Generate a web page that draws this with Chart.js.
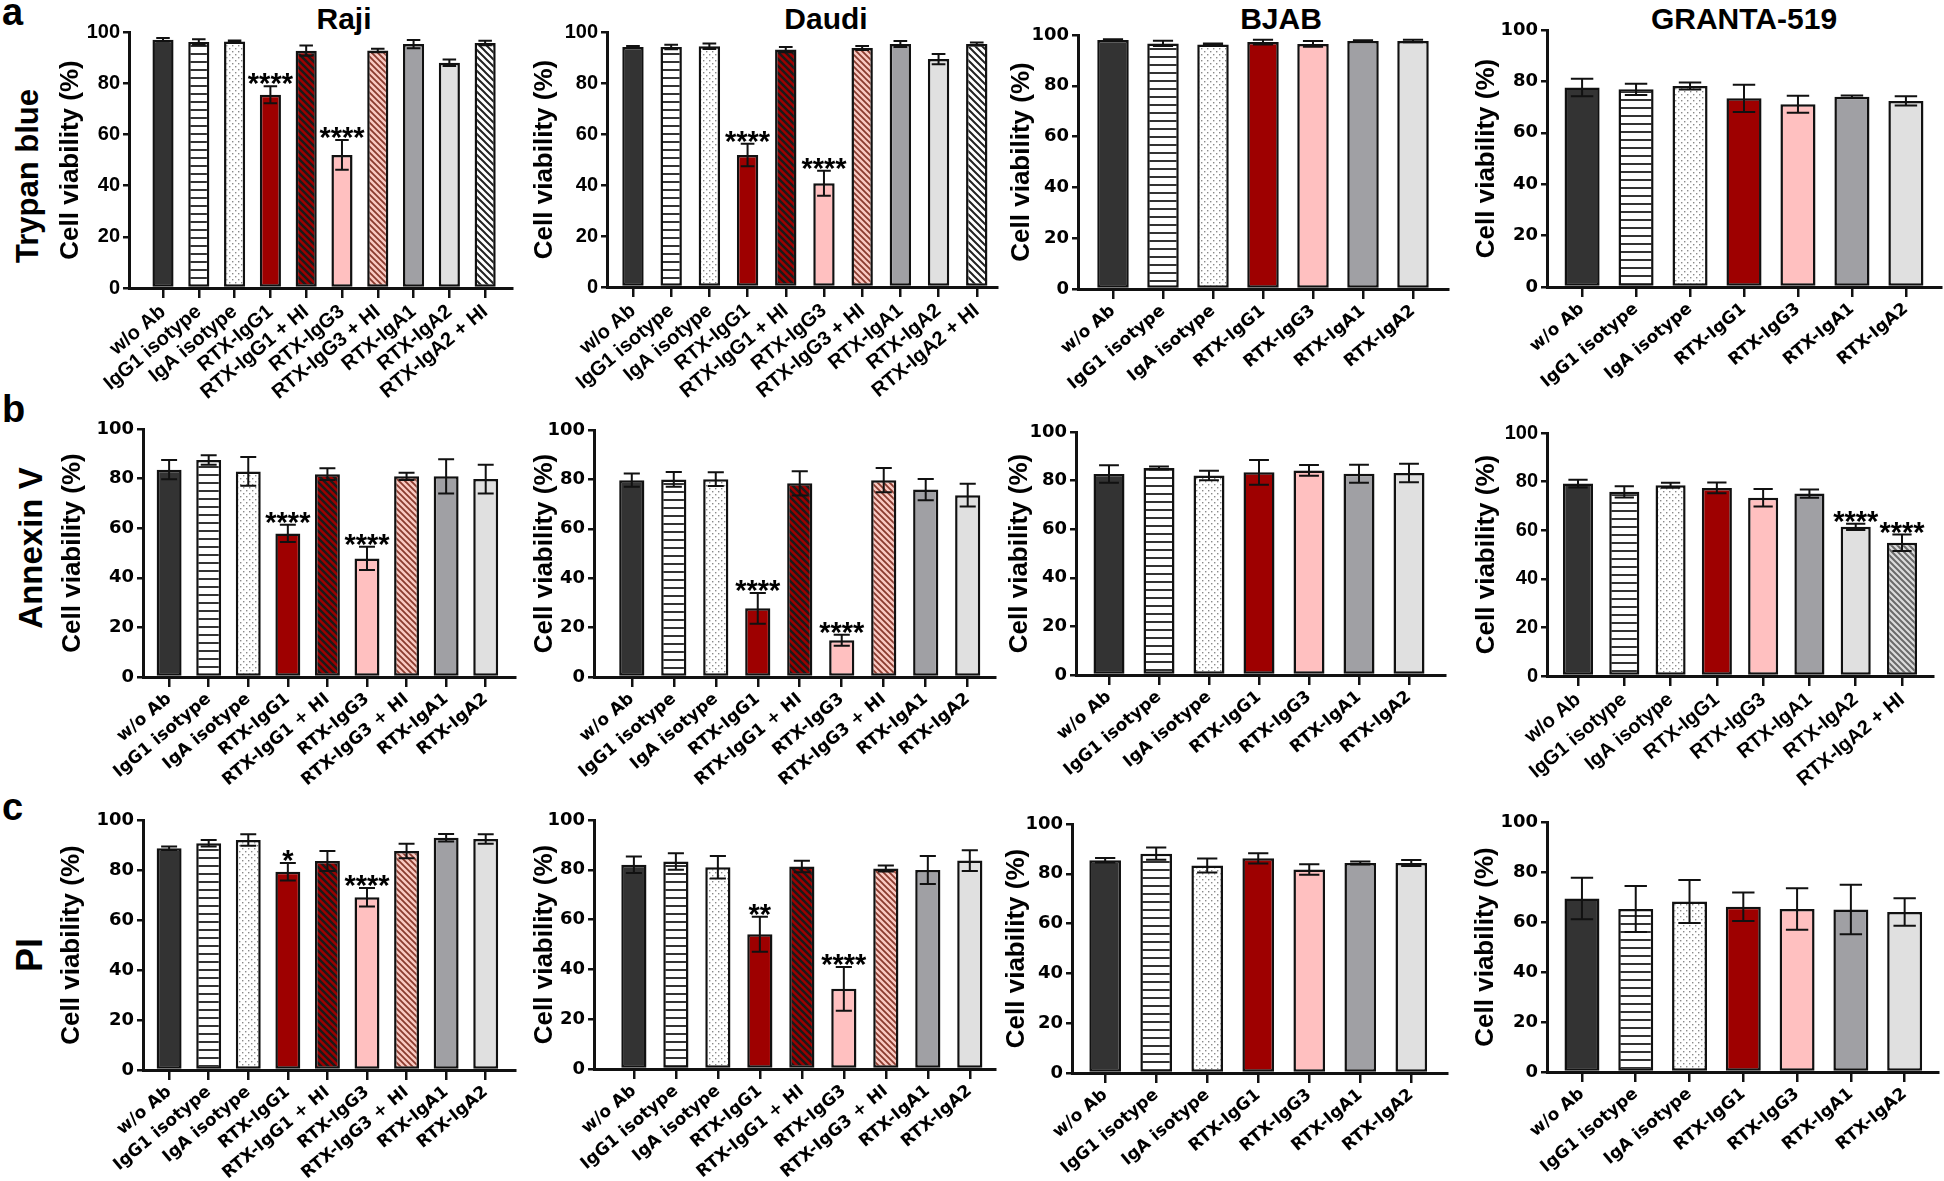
<!DOCTYPE html>
<html>
<head>
<meta charset="utf-8">
<script src="https://cdn.jsdelivr.net/npm/chart.js@4.4.1/dist/chart.umd.min.js"></script>
<style>
  html, body { margin: 0; padding: 0; background: #fff; }
  body { width: 1944px; height: 1181px; position: relative; overflow: hidden;
         font-family: "Liberation Sans", Arial, sans-serif; font-weight: bold; color: #000; }
  canvas { position: absolute; }
  .txt { position: absolute; white-space: nowrap; line-height: 1; }
  .letter { font-size: 38px; }
  .col { font-size: 30px; transform: translateX(-50%); }
  .row { transform: translate(-50%, -50%) rotate(-90deg); }
</style>
</head>
<body>
<div class="txt letter" style="left:2px;top:-7px">a</div>
<div class="txt letter" style="left:2px;top:390px">b</div>
<div class="txt letter" style="left:2px;top:788px">c</div>

<div class="txt col" style="left:344px;top:4px">Raji</div>
<div class="txt col" style="left:826px;top:4px">Daudi</div>
<div class="txt col" style="left:1281px;top:4px">BJAB</div>
<div class="txt col" style="left:1744px;top:4px">GRANTA-519</div>

<div class="txt row" style="left:27px;top:176px;font-size:31px">Trypan blue</div>
<div class="txt row" style="left:30px;top:548px;font-size:33px">Annexin V</div>
<div class="txt row" style="left:30px;top:955px;font-size:36px">PI</div>

<script>
// category labels
const labelsHI10 = ['w/o Ab', 'IgG1 isotype', 'IgA isotype', 'RTX-IgG1', 'RTX-IgG1 + HI', 'RTX-IgG3', 'RTX-IgG3 + HI', 'RTX-IgA1', 'RTX-IgA2', 'RTX-IgA2 + HI'];
const labelsHI9 = ['w/o Ab', 'IgG1 isotype', 'IgA isotype', 'RTX-IgG1', 'RTX-IgG1 + HI', 'RTX-IgG3', 'RTX-IgG3 + HI', 'RTX-IgA1', 'RTX-IgA2'];
const labels7 = ['w/o Ab', 'IgG1 isotype', 'IgA isotype', 'RTX-IgG1', 'RTX-IgG3', 'RTX-IgA1', 'RTX-IgA2'];
const labels8 = ['w/o Ab', 'IgG1 isotype', 'IgA isotype', 'RTX-IgG1', 'RTX-IgG3', 'RTX-IgA1', 'RTX-IgA2', 'RTX-IgA2 + HI'];

// a: Trypan blue
const rajiTrypanMean = [97.0, 96.1, 96.3, 75.5, 92.7, 52.0, 92.8, 95.3, 88.0, 95.7];
const rajiTrypanSD = [0.7, 1.1, 0.4, 3.3, 2.0, 5.8, 0.7, 1.6, 1.3, 0.9];
const rajiTrypanStars = ['', '', '', '****', '', '****', '', '', '', ''];

const daudiTrypanMean = [94.1, 94.1, 94.4, 51.8, 93.1, 40.7, 93.7, 95.3, 89.4, 95.3];
const daudiTrypanSD = [0.4, 0.9, 1.1, 4.4, 1.0, 4.9, 0.8, 1.2, 2.0, 0.6];
const daudiTrypanStars = ['', '', '', '****', '', '****', '', '', '', ''];

const bjabTrypanMean = [98.0, 96.7, 96.3, 97.2, 96.5, 97.6, 97.6];
const bjabTrypanSD = [0.3, 1.0, 0.4, 0.9, 1.1, 0.3, 0.5];

const grantaTrypanMean = [77.6, 76.9, 78.2, 73.4, 71.1, 74.0, 72.4];
const grantaTrypanSD = [3.4, 2.2, 1.4, 5.3, 3.3, 0.5, 1.8];

// b: Annexin V
const rajiAnnexinMean = [83.6, 87.5, 82.9, 57.9, 81.8, 47.8, 80.9, 80.9, 79.8];
const rajiAnnexinSD = [3.9, 1.9, 5.8, 3.5, 2.4, 4.7, 1.5, 6.9, 5.8];
const rajiAnnexinStars = ['', '', '', '****', '', '****', '', '', ''];

const daudiAnnexinMean = [79.7, 80.0, 80.1, 27.8, 78.4, 14.9, 79.7, 75.9, 73.6];
const daudiAnnexinSD = [2.7, 3.0, 2.8, 6.2, 4.9, 2.2, 4.9, 4.3, 4.6];
const daudiAnnexinStars = ['', '', '', '****', '', '****', '', '', ''];

const bjabAnnexinMean = [82.7, 85.2, 82.1, 83.4, 84.2, 82.8, 83.1];
const bjabAnnexinSD = [3.6, 0.6, 2.0, 5.1, 2.2, 3.7, 3.8];

const grantaAnnexinMean = [79.2, 75.8, 78.5, 77.4, 73.4, 75.1, 61.4, 54.8];
const grantaAnnexinSD = [1.6, 2.3, 1.0, 2.2, 3.6, 1.7, 1.3, 3.4];
const grantaAnnexinStars = ['', '', '', '', '', '', '****', '****'];

// c: PI
const rajiPIMean = [88.7, 90.7, 92.0, 79.3, 83.6, 69.1, 87.6, 92.9, 92.4];
const rajiPISD = [0.7, 1.3, 2.3, 3.5, 4.0, 3.7, 2.9, 1.5, 1.9];
const rajiPIStars = ['', '', '', '*', '', '****', '', '', ''];

const daudiPIMean = [82.0, 83.3, 81.0, 54.1, 81.3, 32.2, 80.5, 79.9, 83.7];
const daudiPISD = [3.3, 3.3, 4.5, 7.0, 2.3, 8.8, 1.2, 5.6, 4.2];
const daudiPIStars = ['', '', '', '**', '', '****', '', '', ''];

const bjabPIMean = [85.4, 88.1, 83.3, 86.2, 81.7, 84.3, 84.3];
const bjabPISD = [0.9, 2.5, 2.8, 2.1, 2.1, 0.6, 1.2];

const grantaPIMean = [69.4, 65.2, 68.2, 66.1, 65.2, 65.0, 64.0];
const grantaPISD = [8.3, 9.2, 8.6, 5.7, 8.3, 9.9, 5.5];

const noStars7 = ['', '', '', '', '', '', ''];

// fills
function makePattern(size, bg, draw) {
  const c = document.createElement('canvas');
  c.width = c.height = size;
  const g = c.getContext('2d');
  g.fillStyle = bg;
  g.fillRect(0, 0, size, size);
  draw(g, size);
  return g.createPattern(c, 'repeat');
}
function hatch(bg, color, lw, size) {
  return makePattern(size, bg, (g, s) => {
    g.strokeStyle = color;
    g.lineWidth = lw;
    g.beginPath();
    for (let k = -1; k <= 1; k++) {
      g.moveTo(k * s - 1, -1);
      g.lineTo(k * s + s + 1, s + 1);
    }
    g.stroke();
  });
}
const stripes = makePattern(8, '#fff', (g, s) => { g.fillStyle = '#333'; g.fillRect(0, 3, s, 2); });
const dots = makePattern(6, '#fff', (g) => {
  g.fillStyle = '#8a8a8a';
  g.fillRect(1, 1, 1.4, 1.4);
  g.fillRect(4, 4, 1.4, 1.4);
});
const fills = {
  'w/o Ab': '#333333',
  'IgG1 isotype': stripes,
  'IgA isotype': dots,
  'RTX-IgG1': '#9e0000',
  'RTX-IgG1 + HI': hatch('#9e0000', '#1a1a1a', 2.5, 7),
  'RTX-IgG3': '#ffc0c0',
  'RTX-IgG3 + HI': hatch('#f9c9c2', '#8a3b2e', 1.8, 6),
  'RTX-IgA1': '#a0a0a4',
  'RTX-IgA2': '#e0e0e0',
  'RTX-IgA2 + HI': hatch('#ffffff', '#222', 2, 7)
};
const grayHatch = hatch('#dcdcdc', '#6a6a6a', 2, 6);

const errorBars = {
  id: 'errorBars',
  afterDatasetsDraw(chart) {
    const ctx = chart.ctx, y = chart.scales.y;
    chart.data.datasets.forEach((ds, di) => {
      chart.getDatasetMeta(di).data.forEach((bar, i) => {
        const m = ds.data[i].y, s = ds.sd[i];
        const hi = y.getPixelForValue(m + s), lo = y.getPixelForValue(m - s);
        const half = bar.width * 0.32;
        ctx.save();
        ctx.strokeStyle = '#111';
        ctx.lineWidth = 2;
        ctx.beginPath();
        ctx.moveTo(bar.x, hi); ctx.lineTo(bar.x, lo);
        ctx.moveTo(bar.x - half, hi); ctx.lineTo(bar.x + half, hi);
        ctx.moveTo(bar.x - half, lo); ctx.lineTo(bar.x + half, lo);
        ctx.stroke();
        if (ds.stars[i]) {
          ctx.fillStyle = '#000';
          ctx.font = 'bold 29px "Liberation Sans", Arial, sans-serif';
          ctx.textAlign = 'center';
          ctx.textBaseline = 'alphabetic';
          ctx.fillText(ds.stars[i], bar.x, hi + 7);
        }
        ctx.restore();
      });
    });
  }
};

const panels = [
  { labels: labelsHI10, mean: rajiTrypanMean, sd: rajiTrypanSD, stars: rajiTrypanStars, axisX: 129, top: 32, bottom: 288, right: 512, titleX: 71, xmin: -0.95, xmax: 9.75, bar: 0.59, wide: false },
  { labels: labelsHI10, mean: daudiTrypanMean, sd: daudiTrypanSD, stars: daudiTrypanStars, axisX: 607, top: 32, bottom: 287, right: 997, titleX: 545, xmin: -0.68, xmax: 9.53, bar: 0.56, wide: false },
  { labels: labels7, mean: bjabTrypanMean, sd: bjabTrypanSD, stars: noStars7, axisX: 1078, top: 35, bottom: 289, right: 1448, titleX: 1022, xmin: -0.7, xmax: 6.7, bar: 0.63, wide: true },
  { labels: labels7, mean: grantaTrypanMean, sd: grantaTrypanSD, stars: noStars7, axisX: 1547, top: 30, bottom: 287, right: 1941, titleX: 1487, xmin: -0.65, xmax: 6.65, bar: 0.65, wide: true },

  { labels: labelsHI9, mean: rajiAnnexinMean, sd: rajiAnnexinSD, stars: rajiAnnexinStars, axisX: 143, top: 429, bottom: 677, right: 515, titleX: 73, xmin: -0.66, xmax: 8.74, bar: 0.63, wide: true },
  { labels: labelsHI9, mean: daudiAnnexinMean, sd: daudiAnnexinSD, stars: daudiAnnexinStars, axisX: 594, top: 430, bottom: 677, right: 995, titleX: 545, xmin: -0.9, xmax: 8.65, bar: 0.6, wide: true },
  { labels: labels7, mean: bjabAnnexinMean, sd: bjabAnnexinSD, stars: noStars7, axisX: 1076, top: 432, bottom: 675, right: 1445, titleX: 1020, xmin: -0.66, xmax: 6.72, bar: 0.62, wide: true },
  { labels: labels8, mean: grantaAnnexinMean, sd: grantaAnnexinSD, stars: grantaAnnexinStars, axisX: 1547, top: 433, bottom: 676, right: 1933, titleX: 1487, xmin: -0.67, xmax: 7.67, bar: 0.65, wide: false, alt: true },

  { labels: labelsHI9, mean: rajiPIMean, sd: rajiPISD, stars: rajiPIStars, axisX: 143, top: 820, bottom: 1070, right: 515, titleX: 72, xmin: -0.66, xmax: 8.74, bar: 0.63, wide: true },
  { labels: labelsHI9, mean: daudiPIMean, sd: daudiPISD, stars: daudiPIStars, axisX: 594, top: 820, bottom: 1069, right: 995, titleX: 545, xmin: -0.95, xmax: 8.6, bar: 0.6, wide: true },
  { labels: labels7, mean: bjabPIMean, sd: bjabPISD, stars: noStars7, axisX: 1072, top: 824, bottom: 1073, right: 1447, titleX: 1017, xmin: -0.65, xmax: 6.7, bar: 0.62, wide: true },
  { labels: labels7, mean: grantaPIMean, sd: grantaPISD, stars: noStars7, axisX: 1547, top: 822, bottom: 1072, right: 1938, titleX: 1486, xmin: -0.65, xmax: 6.62, bar: 0.65, wide: true }
];

const arial = '"Liberation Sans", Arial, sans-serif';
const dejavu = '"DejaVu Sans", sans-serif';

panels.forEach(p => {
  const left = p.titleX - 20, top = p.top - 30;
  const width = p.right + 4 - left, height = p.bottom - top + 135;
  const cv = document.createElement('canvas');
  cv.width = width;
  cv.height = height;
  cv.style.left = left + 'px';
  cv.style.top = top + 'px';
  document.body.appendChild(cv);

  const tickFont = p.wide ? { family: dejavu, size: 18, weight: 'bold' } : { family: arial, size: 20, weight: 'bold' };
  const labelFont = p.wide ? { family: dejavu, size: 17, weight: 'bold' } : { family: arial, size: 20, weight: 'bold' };
  const colors = p.labels.map(l => (p.alt && l === 'RTX-IgA2 + HI') ? grayHatch : fills[l]);

  new Chart(cv.getContext('2d'), {
    type: 'bar',
    data: {
      datasets: [{
        data: p.mean.map((v, i) => ({ x: i, y: v })),
        sd: p.sd,
        stars: p.stars,
        backgroundColor: colors,
        borderColor: '#111',
        borderWidth: 2.5,
        borderSkipped: false,
        barPercentage: p.bar,
        categoryPercentage: 1
      }]
    },
    options: {
      responsive: false,
      animation: false,
      devicePixelRatio: 1,
      layout: { padding: { top: 30, right: 4, left: 0, bottom: 0 } },
      plugins: { legend: { display: false }, tooltip: { enabled: false } },
      scales: {
        x: {
          type: 'linear',
          bounds: 'data',
          min: p.xmin,
          max: p.xmax,
          offset: false,
          afterBuildTicks: s => { s.ticks = p.labels.map((_, i) => ({ value: i })); },
          afterFit: s => { s.height = 135; },
          grid: { offset: false, drawOnChartArea: false, tickLength: 10, lineWidth: 2.5, color: '#111' },
          border: { color: '#111', width: 3 },
          ticks: {
            autoSkip: false,
            minRotation: 40,
            maxRotation: 40,
            padding: 2,
            color: '#000',
            font: labelFont,
            callback: v => p.labels[Math.round(v)] ?? ''
          }
        },
        y: {
          min: 0,
          max: 100,
          afterFit: s => { s.width = p.axisX - left; },
          grid: { drawOnChartArea: false, tickLength: 6, lineWidth: 2.5, color: '#111' },
          border: { color: '#111', width: 3 },
          ticks: { stepSize: 20, padding: 3, color: '#000', font: tickFont },
          title: {
            display: true,
            text: 'Cell viability (%)',
            color: '#000',
            font: { family: arial, size: 26, weight: 'bold' },
            padding: { top: 4, bottom: 4 }
          }
        }
      }
    },
    plugins: [errorBars]
  });
});
</script>
</body>
</html>
